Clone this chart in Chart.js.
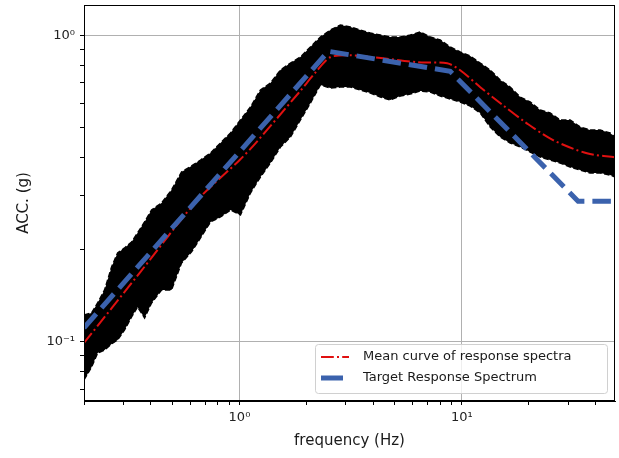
<!DOCTYPE html>
<html>
<head>
<meta charset="utf-8">
<script src="https://cdn.jsdelivr.net/npm/chart.js@4.4.1/dist/chart.umd.min.js"></script>
<style>
    html, body { margin: 0; padding: 0; background: #fff; }
    #grafico { width: 619px; height: 458px; }
</style>
</head>
<body>
<div id="grafico"><canvas id="graficoCanvas" width="619" height="458"></canvas></div>
<script>
// faixa dos espectros individuais (envoltoria superior e inferior)
const freqBanda = [0.2, 0.2164, 0.2303, 0.2475, 0.2661, 0.2832, 0.3044, 0.3273, 0.3482, 0.3744,
    0.4025, 0.4463, 0.495, 0.549, 0.6088, 0.6681, 0.741, 0.8217, 0.9112, 1.0104,
    1.1206, 1.2427, 1.3781, 1.5283, 1.6949, 1.8796, 2.0845, 2.3116, 2.5634, 2.8428,
    3.1525, 3.496, 3.877, 4.2995, 4.768, 5.2875, 5.8614, 6.5007, 7.2091, 7.9947,
    8.866, 9.8287, 10.899, 12.087, 13.404, 14.864, 16.484, 18.281, 20.273, 22.482,
    24.932, 27.648, 30.661, 34.003, 37.707, 41.818, 46.37, 48.83];
const bandaSuperior = [0.1222, 0.1241, 0.1337, 0.1475, 0.1753, 0.1948, 0.2022, 0.2115, 0.2263, 0.2459,
    0.269, 0.2836, 0.3127, 0.3579, 0.3745, 0.3917, 0.4129, 0.4451, 0.4799, 0.5292,
    0.5834, 0.6631, 0.6988, 0.7704, 0.812, 0.8494, 0.9158, 0.9874, 1.0407, 1.0805,
    1.0644, 1.0407, 1.0174, 1.0023, 0.9874, 0.9874, 1.0023, 1.0252, 0.9874, 0.9654,
    0.9158, 0.8822, 0.8558, 0.812, 0.7704, 0.7146, 0.6781, 0.6289, 0.6058, 0.5705,
    0.5578, 0.5292, 0.5292, 0.5021, 0.4909, 0.4909, 0.4799, 0.4656];
const bandaInferior = [0.075, 0.0827, 0.0918, 0.0939, 0.0983, 0.1013, 0.1092, 0.1204, 0.1298, 0.1195,
    0.1337, 0.1475, 0.1475, 0.1806, 0.1963, 0.2181, 0.2459, 0.2553, 0.269, 0.2592,
    0.3057, 0.3447, 0.383, 0.4319, 0.4656, 0.5292, 0.6012, 0.6885, 0.673, 0.6781,
    0.6781, 0.6631, 0.6483, 0.6289, 0.6149, 0.6336, 0.6432, 0.6581, 0.6531, 0.6336,
    0.6195, 0.6058, 0.5877, 0.5578, 0.5021, 0.4656, 0.4451, 0.4319, 0.416, 0.4007,
    0.3917, 0.383, 0.3716, 0.3634, 0.3552, 0.3552, 0.3499, 0.3447];

// curva media
const freqMedia = [0.2, 0.359, 0.648, 1.0, 1.18, 1.84, 2.24, 2.56, 3.15, 4.43, 6.30, 8.59, 9.83, 12.1, 14.9, 19.6, 25.7, 36.5, 48.8];
const accMedia = [0.099, 0.169, 0.290, 0.391, 0.444, 0.647, 0.769, 0.848, 0.861, 0.841, 0.817, 0.810, 0.769, 0.677, 0.600, 0.516, 0.455, 0.412, 0.400];

// espectro alvo
const freqAlvo = [0.2, 2.51, 8.86, 33.3, 48.8];
const accAlvo = [0.111, 0.887, 0.763, 0.2875, 0.2875];

const ticksX = [0.2, 0.3, 0.4, 0.5, 0.6, 0.7, 0.8, 0.9, 1, 2, 3, 4, 5, 6, 7, 8, 9, 10, 20, 30, 40];
const ticksY = [0.07, 0.08, 0.09, 0.1, 0.2, 0.3, 0.4, 0.5, 0.6, 0.7, 0.8, 0.9, 1];
const rotulosMaiores = { 0.1: '10\u207B\u00B9', 1: '10\u2070', 10: '10\u00B9' };

function pontos(xs, ys) {
    return xs.map(function (x, i) { return { x: x, y: ys[i] }; });
}

function ehMaior(valor) {
    return rotulosMaiores[valor] !== undefined;
}

const moldura = {
    id: 'moldura',
    afterDatasetsDraw(chart) {
        const a = chart.chartArea;
        const ctx = chart.ctx;
        ctx.save();
        ctx.strokeStyle = '#000';
        ctx.lineWidth = 1;
        ctx.strokeRect(a.left + 0.5, a.top + 0.5, a.right - a.left - 1, a.bottom - a.top - 1);
        ctx.restore();
    }
};

const legendaInterna = {
    id: 'legendaInterna',
    afterDraw(chart) {
        const ctx = chart.ctx;
        const itens = chart.data.datasets.filter(function (d) { return d.label; });
        const x0 = 315, y0 = 344, w = 292, h = 49;
        ctx.save();
        ctx.fillStyle = 'rgba(255,255,255,0.8)';
        ctx.strokeStyle = '#d0d0d0';
        ctx.lineWidth = 1;
        ctx.beginPath();
        ctx.roundRect(x0 + 0.5, y0 + 0.5, w, h, 3);
        ctx.fill();
        ctx.stroke();
        itens.forEach(function (d, i) {
            const y = 357 + i * 21;
            const grossa = d.borderWidth > 3;
            ctx.strokeStyle = d.borderColor;
            ctx.lineWidth = d.borderWidth;
            ctx.setLineDash(grossa ? [] : (d.borderDash || []));
            ctx.beginPath();
            ctx.moveTo(321, y);
            ctx.lineTo(grossa ? 343 : 349, y);
            ctx.stroke();
            ctx.setLineDash([]);
            ctx.fillStyle = '#1a1a1a';
            ctx.font = '13px "DejaVu Sans"';
            ctx.textBaseline = 'middle';
            ctx.fillText(d.label, 363, y);
        });
        ctx.restore();
    }
};

const dados = {
    datasets: [
        {
            label: 'Mean curve of response spectra',
            data: pontos(freqMedia, accMedia),
            borderColor: '#e01010',
            borderWidth: 2,
            borderDash: [12.8, 3.2, 2, 3.2],
            pointRadius: 0,
            fill: false,
            tension: 0.3,
            order: 1
        },
        {
            label: 'Target Response Spectrum',
            data: pontos(freqAlvo, accAlvo),
            borderColor: '#3b62ad',
            borderWidth: 5,
            borderDash: [18.5, 8],
            pointRadius: 0,
            fill: false,
            order: 0
        },
        {
            data: pontos(freqBanda, bandaSuperior),
            borderColor: '#000',
            backgroundColor: '#000',
            borderWidth: 1.5,
            borderDash: [5.5, 2.4],
            pointRadius: 0,
            fill: '+1',
            order: 2
        },
        {
            data: pontos(freqBanda, bandaInferior),
            borderColor: '#000',
            borderWidth: 1.5,
            borderDash: [5.5, 2.4],
            pointRadius: 0,
            fill: false,
            order: 3
        }
    ]
};

const fonteTick = { family: 'DejaVu Sans', size: 13 };

const config = {
    type: 'line',
    data: dados,
    plugins: [moldura, legendaInterna],
    options: {
        responsive: false,
        animation: false,
        layout: { padding: { top: 5, right: 4, left: 0, bottom: 0 } },
        plugins: {
            legend: { display: false },
            tooltip: { enabled: false }
        },
        scales: {
            x: {
                type: 'logarithmic',
                min: 0.2,
                max: 48.8,
                afterBuildTicks: function (scale) {
                    scale.ticks = ticksX.map(function (v) { return { value: v }; });
                },
                afterFit: function (scale) {
                    scale.height = 57;
                    scale.paddingLeft = 0;
                    scale.paddingRight = 0;
                },
                ticks: {
                    autoSkip: false,
                    maxRotation: 0,
                    padding: 5,
                    color: '#222',
                    font: fonteTick,
                    callback: function (v) { return ehMaior(v) ? rotulosMaiores[v] : ''; }
                },
                grid: {
                    color: function (c) { return c.tick && ehMaior(c.tick.value) ? '#b0b0b0' : 'rgba(0,0,0,0)'; },
                    tickColor: '#000',
                    tickLength: 4
                },
                border: { color: '#000' },
                title: {
                    display: true,
                    text: 'frequency (Hz)',
                    color: '#1a1a1a',
                    font: { family: 'DejaVu Sans', size: 15 },
                    padding: { top: 0, bottom: 8 }
                }
            },
            y: {
                type: 'logarithmic',
                min: 0.064,
                max: 1.256,
                afterBuildTicks: function (scale) {
                    scale.ticks = ticksY.map(function (v) { return { value: v }; });
                },
                afterFit: function (scale) {
                    scale.width = 84;
                    scale.paddingTop = 0;
                    scale.paddingBottom = 0;
                },
                ticks: {
                    autoSkip: false,
                    padding: 5,
                    color: '#222',
                    font: fonteTick,
                    callback: function (v) { return ehMaior(v) ? rotulosMaiores[v] : ''; }
                },
                grid: {
                    color: function (c) { return c.tick && ehMaior(c.tick.value) ? '#b0b0b0' : 'rgba(0,0,0,0)'; },
                    tickColor: '#000',
                    tickLength: 4
                },
                border: { color: '#000' },
                title: {
                    display: true,
                    text: 'ACC. (g)',
                    color: '#1a1a1a',
                    font: { family: 'DejaVu Sans', size: 15 },
                    padding: { top: 15, bottom: 0 }
                }
            }
        }
    }
};

new Chart(document.getElementById('graficoCanvas'), config);
</script>
</body>
</html>
